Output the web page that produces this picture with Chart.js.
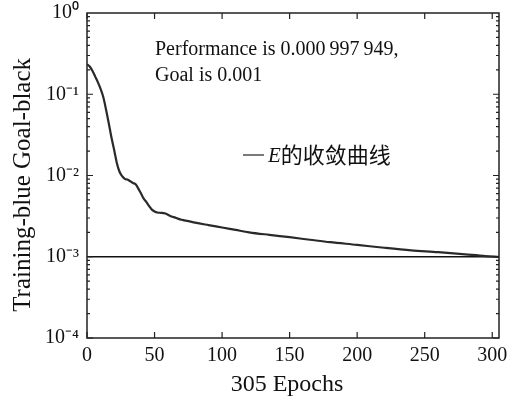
<!DOCTYPE html>
<html lang="zh">
<head>
    <meta charset="UTF-8">
    <title>E的收敛曲线</title>
    <script src="https://cdn.jsdelivr.net/npm/chart.js"></script>
    <style>
        html, body { margin: 0; padding: 0; background: #fff; }
        #wrap { width: 507px; height: 403px; }
    </style>
</head>
<body>
    <div id="wrap"><canvas id="chart" width="507" height="403"></canvas></div>

    <script>
        // training record
        const epochs = [0, 2, 4, 6, 8, 10, 12, 14, 16, 18, 20, 22, 24, 26, 28, 30, 32, 34, 36, 38,
            40, 42, 44, 46, 48, 50, 52, 55, 58, 62, 66, 70, 75, 80, 90, 100, 110, 120, 135, 150,
            165, 180, 200, 220, 240, 260, 280, 295, 305];
        const performance = [0.234, 0.22, 0.195, 0.166, 0.141, 0.117, 0.093, 0.066, 0.045, 0.030,
            0.021, 0.0145, 0.0112, 0.0098, 0.0091, 0.0089, 0.0085, 0.0081, 0.0078, 0.0069,
            0.0060, 0.0052, 0.0047, 0.0042, 0.0038, 0.0036, 0.0035, 0.00347, 0.0034, 0.00316,
            0.0030, 0.00285, 0.00275, 0.00263, 0.00245, 0.00229, 0.00214, 0.0020, 0.00186, 0.00174,
            0.00162, 0.00151, 0.0014, 0.00129, 0.0012, 0.00114, 0.00107, 0.00102, 0.000998];
        const goalEpochs = [0, 305];
        const goal = [0.001, 0.001];

        const xTicks = [0, 50, 100, 150, 200, 250, 300];
        const yTicks = [1e-4, 1e-3, 1e-2, 1e-1, 1];
        const yTickLabels = ['10\u207B\u2074', '10\u207B\u00B3', '10\u207B\u00B2', '10\u207B\u00B9', '10\u2070'];

        const serif = '"Liberation Serif", "Times New Roman", serif';

        // box + inward ticks on all four sides, text notes, legend
        const framePlugin = {
            id: 'frame',
            afterDraw(chart) {
                const ctx = chart.ctx;
                const a = chart.chartArea;
                const xs = chart.scales.x, ys = chart.scales.y;
                ctx.save();
                ctx.strokeStyle = '#222';
                ctx.lineWidth = 1.5;
                ctx.strokeRect(a.left, a.top, a.right - a.left, a.bottom - a.top);

                ctx.lineWidth = 1.2;
                ctx.beginPath();
                xTicks.forEach(v => {
                    const px = xs.getPixelForValue(v);
                    ctx.moveTo(px, a.bottom); ctx.lineTo(px, a.bottom - 6);
                    ctx.moveTo(px, a.top); ctx.lineTo(px, a.top + 6);
                });
                for (let e = -4; e < 0; e++) {
                    for (let m = 1; m <= 9; m++) {
                        const py = ys.getPixelForValue(m * Math.pow(10, e));
                        const len = m === 1 ? 6 : 3;
                        ctx.moveTo(a.left, py); ctx.lineTo(a.left + len, py);
                        ctx.moveTo(a.right, py); ctx.lineTo(a.right - len, py);
                    }
                }
                ctx.stroke();

                ctx.fillStyle = '#111';
                ctx.font = '20px ' + serif;
                ctx.textBaseline = 'alphabetic';
                ctx.fillText('Performance is 0.000\u2009997\u2009949,', 155, 55);
                ctx.fillText('Goal is 0.001', 155, 81);

                // legend
                ctx.lineWidth = 1.2;
                ctx.beginPath();
                ctx.moveTo(243, 155); ctx.lineTo(264, 155);
                ctx.stroke();
                ctx.font = 'italic 21px ' + serif;
                ctx.fillText('E', 268, 162);
                const w = ctx.measureText('E').width;
                ctx.font = '22px "Noto Sans CJK SC"';
                ctx.fillText('的收敛曲线', 268 + w, 163);
                ctx.restore();
            }
        };

        new Chart(document.getElementById('chart'), {
            type: 'line',
            data: {
                datasets: [{
                    label: 'Training',
                    data: epochs.map((e, i) => ({ x: e, y: performance[i] })),
                    borderColor: '#2a2a2a',
                    borderWidth: 2.2,
                    pointRadius: 0,
                    cubicInterpolationMode: 'monotone'
                }, {
                    label: 'Goal',
                    data: goalEpochs.map((e, i) => ({ x: e, y: goal[i] })),
                    borderColor: '#111',
                    borderWidth: 1.6,
                    pointRadius: 0
                }]
            },
            options: {
                responsive: false,
                animation: false,
                layout: { padding: { top: 13, right: 8, left: 0, bottom: 0 } },
                plugins: { legend: { display: false }, tooltip: { enabled: false } },
                scales: {
                    x: {
                        type: 'linear',
                        min: 0,
                        max: 305,
                        grid: { display: false, drawTicks: false },
                        border: { display: false },
                        afterBuildTicks: s => { s.ticks = xTicks.map(v => ({ value: v })); },
                        afterFit: s => { s.height = 65; s.paddingLeft = 0; s.paddingRight = 0; },
                        ticks: {
                            color: '#111',
                            padding: 6,
                            maxRotation: 0,
                            font: { family: serif, size: 20 }
                        },
                        title: {
                            display: true,
                            // trailing spaces nudge the centred title a little to the left
                            text: '305 Epochs  ',
                            color: '#111',
                            font: { family: serif, size: 24 },
                            padding: { top: 0, bottom: 4 }
                        }
                    },
                    y: {
                        type: 'logarithmic',
                        min: 1e-4,
                        max: 1,
                        grid: { display: false, drawTicks: false },
                        border: { display: false },
                        afterBuildTicks: s => { s.ticks = yTicks.map(v => ({ value: v })); },
                        afterFit: s => { s.width = 87; s.paddingTop = 0; s.paddingBottom = 0; },
                        ticks: {
                            color: '#111',
                            padding: 8,
                            font: { family: serif, size: 20 },
                            callback: (v) => yTickLabels[yTicks.indexOf(v)]
                        },
                        title: {
                            display: true,
                            text: 'Training-blue Goal-black   ',
                            color: '#111',
                            font: { family: serif, size: 25 },
                            padding: { top: 8, bottom: 0 }
                        }
                    }
                }
            },
            plugins: [framePlugin]
        });
    </script>
</body>
</html>
